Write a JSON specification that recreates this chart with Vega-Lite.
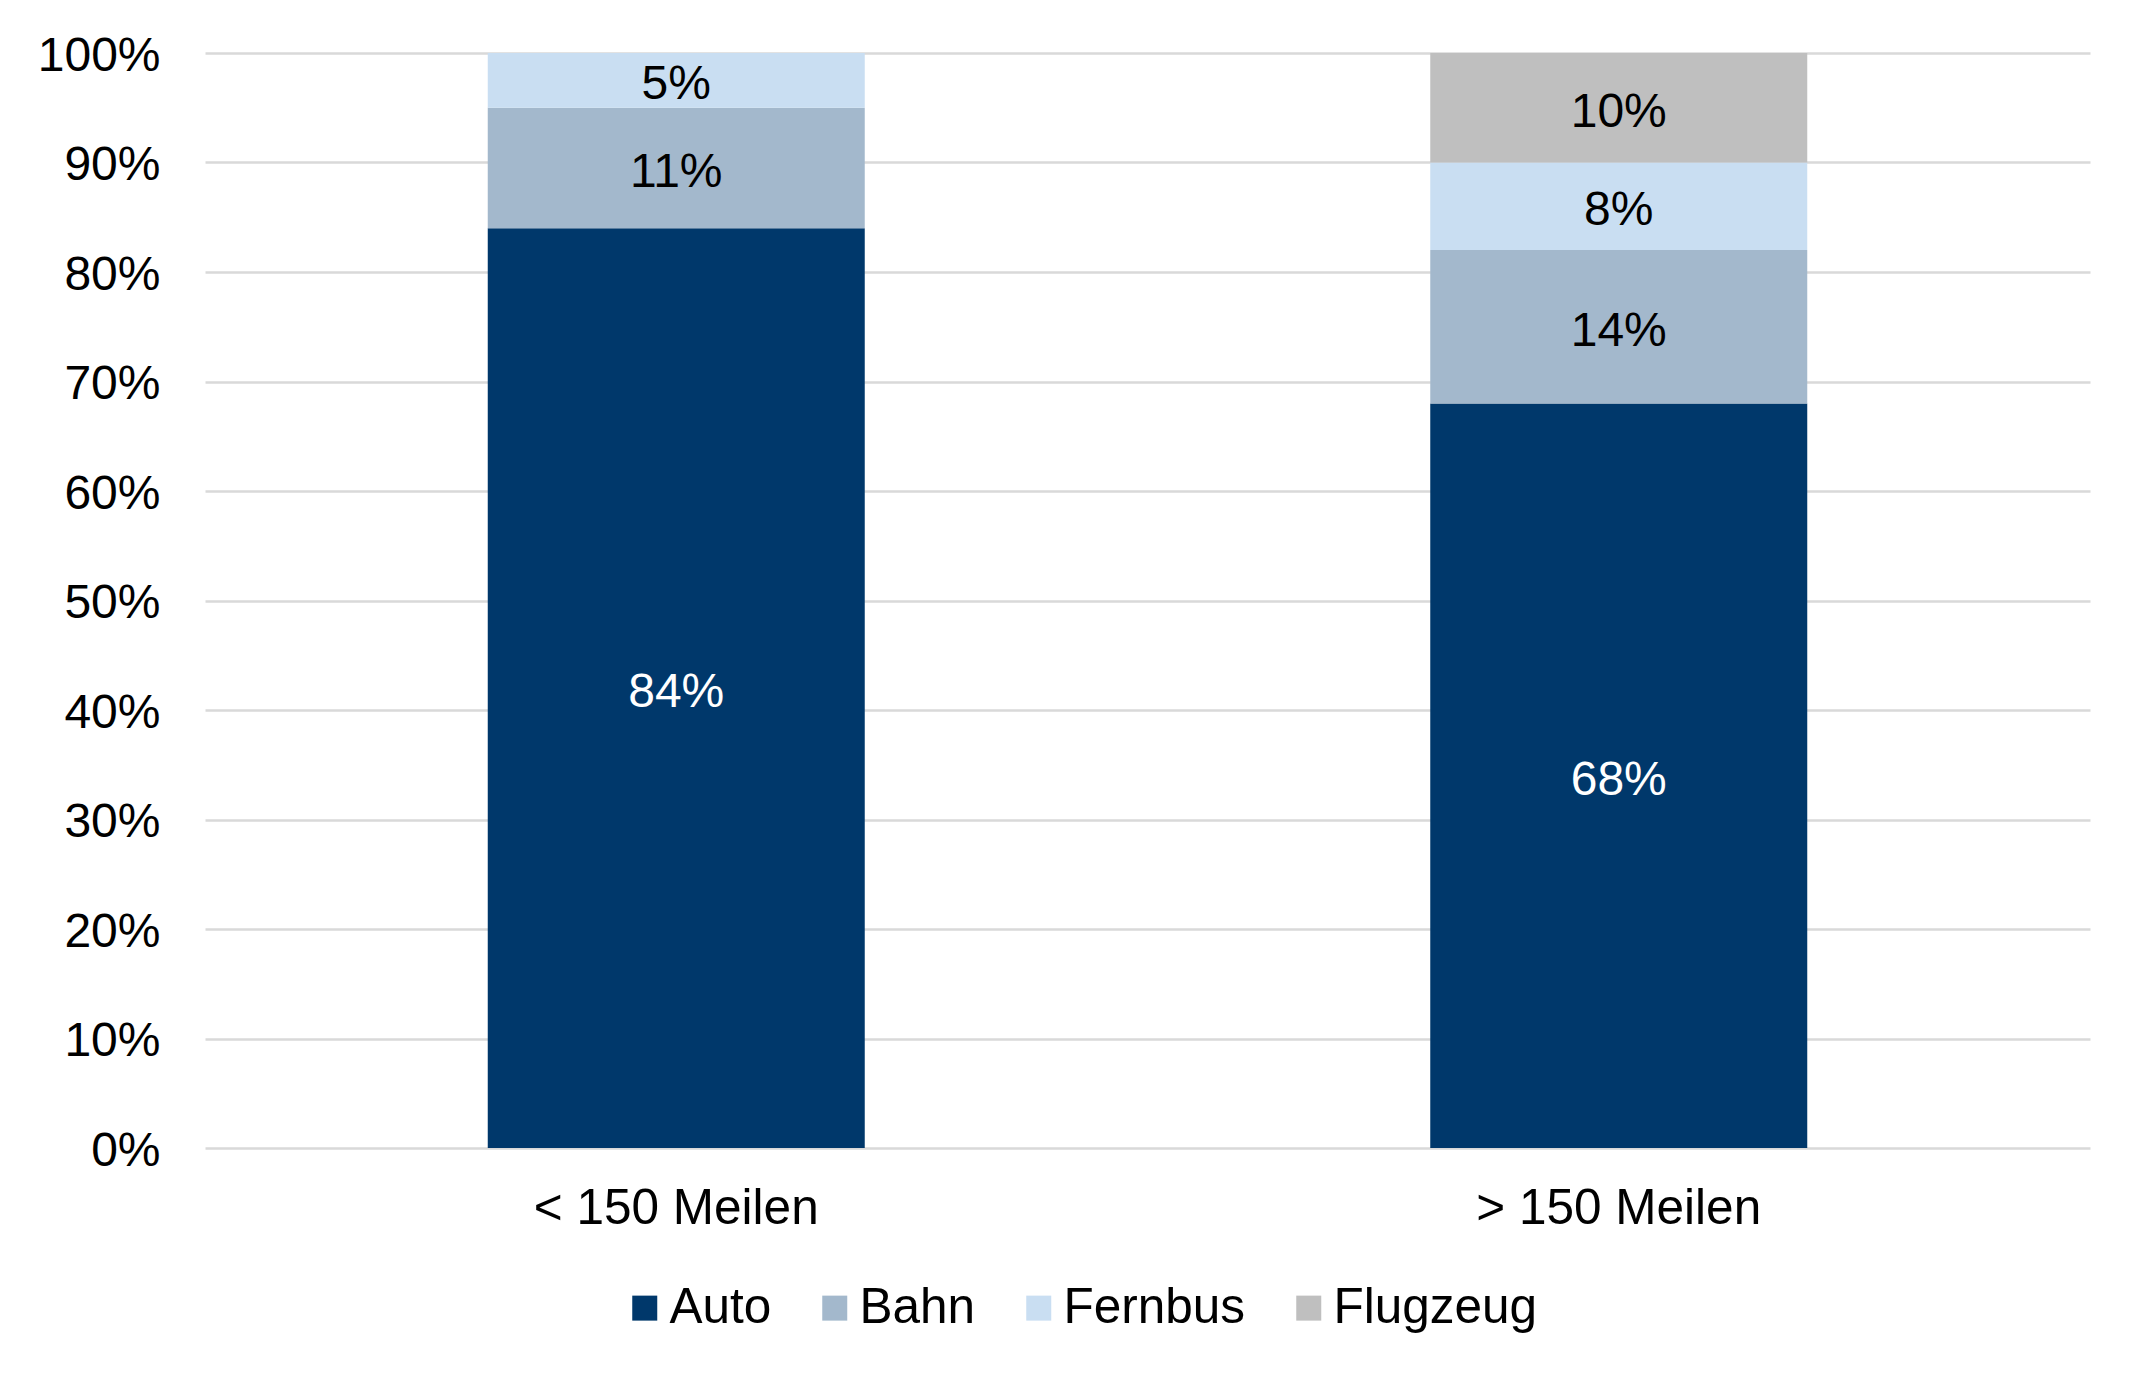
{
  "$schema": "https://vega.github.io/schema/vega-lite/v6.json",
  "autosize": {"type": "none"},
  "width": 1885,
  "height": 1095,
  "padding": {"left": 205, "top": 53, "right": 55, "bottom": 236},
  "background": "white",
  "config": {
    "view": {"stroke": null},
    "font": "Liberation Sans"
  },
  "data": {
    "values": [
      {"dist": "< 150 Meilen", "mode": "Auto", "ord": 1, "value": 0.84},
      {"dist": "< 150 Meilen", "mode": "Bahn", "ord": 2, "value": 0.11},
      {"dist": "< 150 Meilen", "mode": "Fernbus", "ord": 3, "value": 0.05},
      {"dist": "> 150 Meilen", "mode": "Auto", "ord": 1, "value": 0.68},
      {"dist": "> 150 Meilen", "mode": "Bahn", "ord": 2, "value": 0.14},
      {"dist": "> 150 Meilen", "mode": "Fernbus", "ord": 3, "value": 0.08},
      {"dist": "> 150 Meilen", "mode": "Flugzeug", "ord": 4, "value": 0.10}
    ]
  },
  "transform": [
    {"stack": "value", "groupby": ["dist"], "sort": [{"field": "ord"}], "as": ["v0", "v1"]},
    {"calculate": "(datum.v0 + datum.v1) / 2", "as": "mid"}
  ],
  "encoding": {
    "x": {
      "field": "dist",
      "type": "nominal",
      "scale": {"paddingInner": 0.6, "paddingOuter": 0.3},
      "axis": {
        "title": null,
        "labelAngle": 0,
        "labelFont": "Liberation Sans",
        "labelFontSize": 49.5,
        "labelColor": "black",
        "labelPadding": 36,
        "labelLimit": 0,
        "domain": false,
        "ticks": false,
        "grid": false
      }
    }
  },
  "layer": [
    {
      "mark": {"type": "bar"},
      "encoding": {
        "y": {
          "field": "v0",
          "type": "quantitative",
          "scale": {"domain": [0, 1], "nice": false},
          "axis": {
            "title": null,
            "format": ".0%",
            "values": [0, 0.1, 0.2, 0.3, 0.4, 0.5, 0.6, 0.7, 0.8, 0.9, 1],
            "labelFont": "Liberation Sans",
            "labelFontSize": 48,
            "labelColor": "black",
            "labelPadding": 45,
            "labelOffset": 3,
            "domain": false,
            "ticks": false,
            "grid": true,
            "gridColor": "#d9d9d9",
            "gridWidth": 2.5
          }
        },
        "y2": {"field": "v1"},
        "color": {
          "field": "mode",
          "type": "nominal",
          "sort": ["Auto", "Bahn", "Fernbus", "Flugzeug"],
          "scale": {
            "domain": ["Auto", "Bahn", "Fernbus", "Flugzeug"],
            "range": ["#00386B", "#A3B8CC", "#C9DEF2", "#BFBFBF"]
          },
          "legend": {
            "title": null,
            "orient": "none",
            "direction": "horizontal",
            "legendX": 415,
            "legendY": 1230,
            "padding": 0,
            "symbolType": "square",
            "symbolSize": 625,
            "symbolStrokeWidth": 0,
            "labelFont": "Liberation Sans",
            "labelFontSize": 49.5,
            "labelColor": "black",
            "labelOffset": 0,
            "columnPadding": 38,
            "labelLimit": 0
          }
        }
      }
    },
    {
      "mark": {"type": "text", "font": "Liberation Sans", "fontSize": 48, "baseline": "middle", "align": "center", "dy": 5},
      "encoding": {
        "y": {"field": "mid", "type": "quantitative"},
        "text": {"field": "value", "type": "quantitative", "format": ".0%"},
        "color": {
          "condition": {"test": "datum.mode === 'Auto'", "value": "white"},
          "value": "black"
        }
      }
    }
  ]
}
